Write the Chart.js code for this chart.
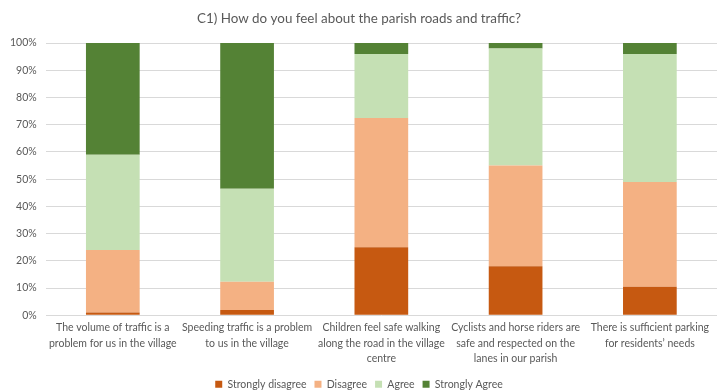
<!DOCTYPE html>
<html>
<head>
<meta charset="utf-8">
<script src="https://cdn.jsdelivr.net/npm/chart.js@4/dist/chart.umd.min.js"></script>
<style>
html,body{margin:0;padding:0;background:#fff;overflow:hidden;}
#wrap{width:725px;height:390px;}
</style>
</head>
<body>
<div id="wrap"><canvas id="c" width="725" height="390"></canvas></div>
<script>
const categories = [
  ["The volume of traffic is a", "problem for us in the village"],
  ["Speeding traffic is a problem", "to us in the village"],
  ["Children feel safe walking", "along the road in the village", "centre"],
  ["Cyclists and horse riders are", "safe and respected on the", "lanes in our parish"],
  ["There is sufficient parking", "for residents\u2019 needs"]
];
const stronglyDisagree = [1, 2, 25, 18, 10.5];
const disagree = [23, 10.3, 47.5, 37, 38.5];
const agree = [35, 34.2, 23.5, 43, 47];
const stronglyAgree = [41, 53.5, 4, 2, 4];
const seriesNames = ["Strongly disagree", "Disagree", "Agree", "Strongly Agree"];
const seriesColors = ["#C65911", "#F4B183", "#C5E0B4", "#548235"];
const yTicks = [0,10,20,30,40,50,60,70,80,90,100];

const FONT = "Lato, 'Liberation Sans', sans-serif";
const values = [stronglyDisagree, disagree, agree, stronglyAgree];

new Chart(document.getElementById('c'), {
  type: 'bar',
  data: {
    labels: categories,
    datasets: seriesNames.map((n, i) => ({
      label: n,
      data: values[i],
      backgroundColor: seriesColors[i],
      borderWidth: 0,
      categoryPercentage: 1.0,
      barPercentage: 0.4
    }))
  },
  options: {
    responsive: false,
    animation: false,
    layout: { padding: { left: 1, right: 8, top: 0, bottom: -9.5 } },
    plugins: {
      title: {
        display: true,
        text: "C1) How do you feel about the parish roads and traffic?",
        color: "#595959",
        font: { family: FONT, size: 13.4, weight: 'normal' },
        padding: { top: 11, bottom: 16 }
      },
      legend: {
        position: 'bottom',
        labels: {
          color: "#595959",
          font: { family: FONT, size: 10.5 },
          boxWidth: 7,
          boxHeight: 7,
          padding: 8
        }
      },
      tooltip: { enabled: false }
    },
    scales: {
      x: {
        stacked: true,
        grid: { display: false, drawTicks: false },
        border: { display: false },
        ticks: {
          color: "#595959",
          font: { family: FONT, size: 10.5, lineHeight: 1.45 },
          autoSkip: false,
          maxRotation: 0,
          minRotation: 0,
          padding: 5
        }
      },
      y: {
        stacked: true,
        min: 0,
        max: 100,
        border: { display: false },
        grid: { color: "#D9D9D9", drawTicks: false },
        afterBuildTicks: (axis) => { axis.ticks = yTicks.map(v => ({ value: v })); },
        ticks: {
          color: "#595959",
          font: { family: FONT, size: 10.5 },
          padding: 9,
          callback: (v) => v + "%"
        }
      }
    }
  }
});
</script>
</body>
</html>
